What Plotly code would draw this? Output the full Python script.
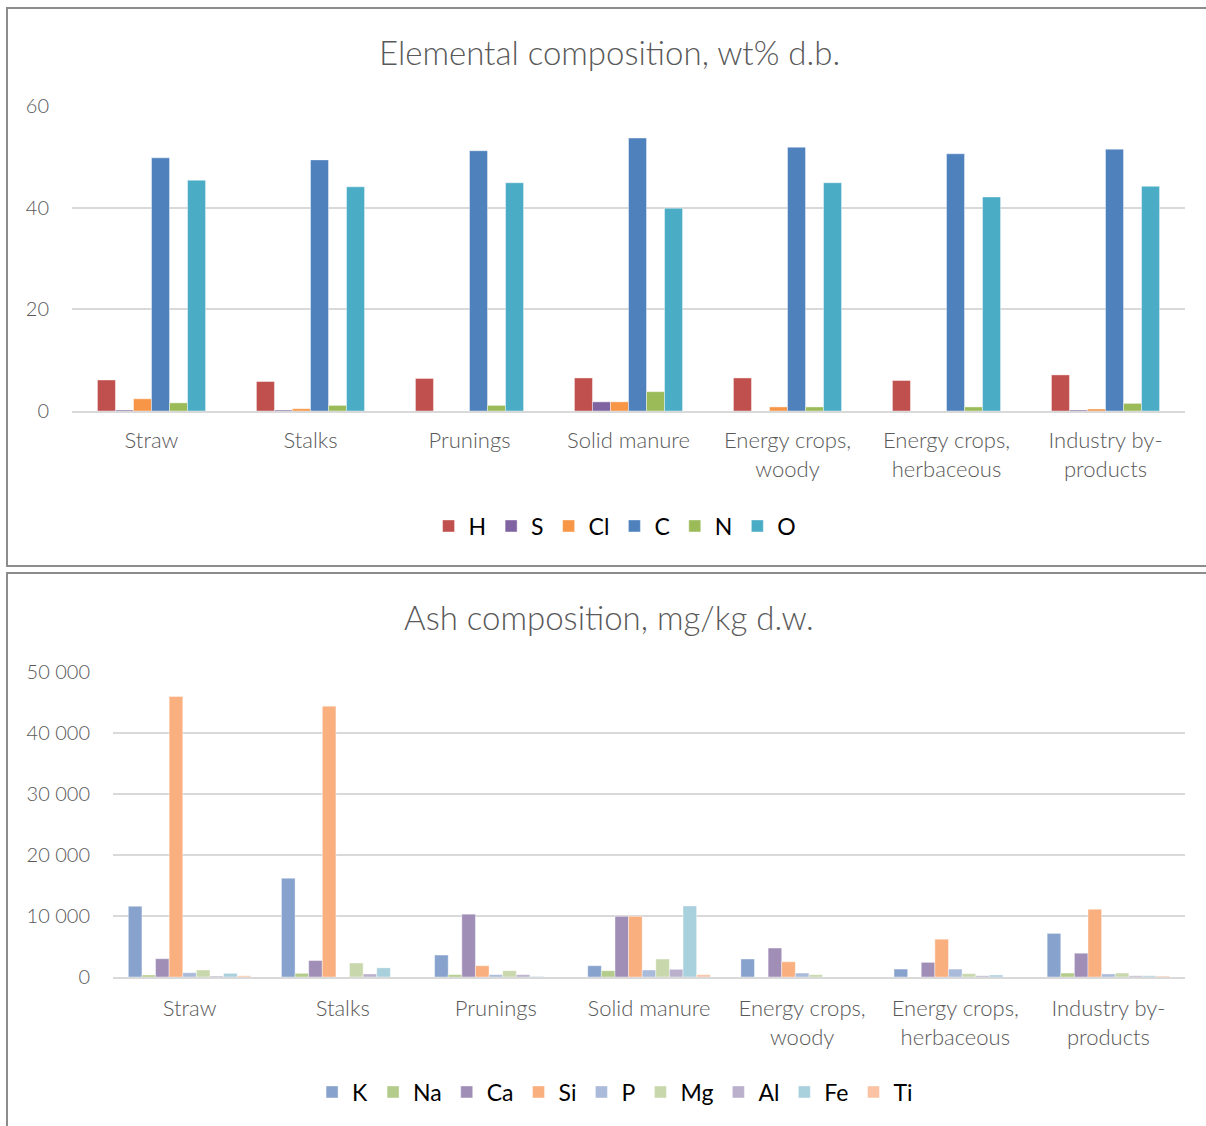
import plotly.graph_objects as go

# Biomass categories (shared by both panels)
categories = ["Straw", "Stalks", "Prunings", "Solid manure",
              "Energy crops,<br>woody", "Energy crops,<br>herbaceous",
              "Industry by-<br>products"]

# Elemental composition, wt% d.b.
elements = ["H", "S", "Cl", "C", "N", "O"]
H = [6.1, 5.8, 6.4, 6.5, 6.5, 6.0, 7.1]
S = [0.2, 0.2, 0.0, 1.8, 0.0, 0.0, 0.2]
Cl = [2.4, 0.45, 0.0, 1.8, 0.8, 0.0, 0.4]
C = [49.8, 49.4, 51.2, 53.7, 51.9, 50.6, 51.5]
N = [1.6, 1.1, 1.1, 3.8, 0.8, 0.8, 1.5]
O = [45.4, 44.1, 44.9, 39.9, 44.9, 42.1, 44.2]
element_values = [H, S, Cl, C, N, O]
element_colors = ["#C0504D", "#8064A2", "#F79646", "#4F81BD", "#9BBB59", "#4BACC6"]

# Ash composition, mg/kg d.w.
ash_elements = ["K", "Na", "Ca", "Si", "P", "Mg", "Al", "Fe", "Ti"]
K = [11600, 16200, 3600, 1850, 2950, 1300, 7150]
Na = [330, 600, 380, 1030, 0, 0, 650]
Ca = [3000, 2700, 10300, 9950, 4750, 2400, 3900]
Si = [46000, 44400, 1850, 9950, 2500, 6200, 11100]
P = [700, 0, 380, 1150, 650, 1300, 500]
Mg = [1150, 2300, 1030, 2950, 380, 550, 650]
Al = [160, 500, 380, 1260, 0, 200, 200]
Fe = [600, 1500, 100, 11650, 0, 330, 200]
Ti = [200, 0, 0, 380, 0, 0, 150]
ash_values = [K, Na, Ca, Si, P, Mg, Al, Fe, Ti]
ash_colors = ["#86A2CD", "#B3CC8B", "#A08EB7", "#F9AF7E", "#A9BADA",
              "#C8D8AC", "#BAB0CB", "#A9D0DD", "#FAC3A4"]

W, H_PX = 1206, 1126
FONT = "Lato, 'Open Sans', sans-serif"
GREY = "#595959"
GRID = "#D9D9D9"


def px_x(p):
    return p / W


def px_y(p):
    return 1 - p / H_PX


fig = go.Figure()

# Top panel: clustered bars, 6 per category
grp_top = 0.68
w_top = grp_top / len(elements)
for i, (name, vals, col) in enumerate(zip(elements, element_values, element_colors)):
    fig.add_trace(go.Bar(
        x=categories, y=vals, name=name, marker_color=col,
        marker_line=dict(width=0.6, color="rgba(255,255,255,0.7)"),
        width=w_top, offset=-grp_top / 2 + i * w_top,
        xaxis="x", yaxis="y", legend="legend",
    ))

# Bottom panel: clustered bars, 9 per category
grp_bot = 0.80
w_bot = grp_bot / len(ash_elements)
for i, (name, vals, col) in enumerate(zip(ash_elements, ash_values, ash_colors)):
    fig.add_trace(go.Bar(
        x=categories, y=vals, name=name, marker_color=col,
        marker_line=dict(width=0.6, color="rgba(255,255,255,0.7)"),
        width=w_bot, offset=-grp_bot / 2 + i * w_bot,
        xaxis="x2", yaxis="y2", legend="legend2",
    ))

tick_font = dict(family=FONT, size=20, color=GREY, weight=300)
cat_font = dict(family=FONT, size=22, color=GREY, weight=300)
legend_font = dict(family=FONT, size=23, color="#000000")
title_font = dict(family=FONT, size=33, color=GREY, weight=300)

fig.update_layout(
    width=W, height=H_PX,
    margin=dict(l=0, r=0, t=0, b=0, autoexpand=False),
    paper_bgcolor="white", plot_bgcolor="white",
    barmode="overlay",
    separators=". ",
    font=dict(family=FONT, color=GREY),
    xaxis=dict(domain=[px_x(72), px_x(1185)], anchor="y",
               showline=True, linecolor=GRID, linewidth=2,
               tickfont=cat_font, ticks="", showgrid=False,
               ticklabelstandoff=9, automargin=False),
    yaxis=dict(domain=[px_y(411), px_y(106)], anchor="x",
               range=[0, 60], dtick=20, showgrid=True, gridcolor=GRID,
               gridwidth=1.5, zeroline=False, tickfont=tick_font,
               ticks="", ticklabelstandoff=22, automargin=False),
    xaxis2=dict(domain=[px_x(113), px_x(1185)], anchor="y2",
                showline=True, linecolor=GRID, linewidth=2,
                tickfont=cat_font, ticks="", showgrid=False,
                ticklabelstandoff=11, automargin=False),
    yaxis2=dict(domain=[px_y(977), px_y(672)], anchor="x2",
                range=[0, 50000], dtick=10000, tickformat=",d",
                showgrid=True, gridcolor=GRID, gridwidth=1.5,
                zeroline=False, tickfont=tick_font, ticks="",
                ticklabelstandoff=22, automargin=False),
    legend=dict(orientation="h", x=0.51, xanchor="center",
                y=px_y(526), yanchor="middle", font=legend_font,
                itemwidth=30, tracegroupgap=0, bgcolor="rgba(0,0,0,0)"),
    legend2=dict(orientation="h", x=0.51, xanchor="center",
                 y=px_y(1092), yanchor="middle", font=legend_font,
                 itemwidth=30, tracegroupgap=0, bgcolor="rgba(0,0,0,0)"),
    annotations=[
        dict(text="Elemental composition, wt% d.b.", x=0.505, y=px_y(52),
             xref="paper", yref="paper", showarrow=False,
             xanchor="center", yanchor="middle", font=title_font),
        dict(text="Ash composition, mg/kg d.w.", x=0.505, y=px_y(617),
             xref="paper", yref="paper", showarrow=False,
             xanchor="center", yanchor="middle", font=title_font),
    ],
    shapes=[
        dict(type="rect", xref="paper", yref="paper",
             x0=px_x(7), x1=1.02, y0=px_y(566), y1=px_y(8),
             line=dict(color="#8C8C8C", width=2), fillcolor="rgba(0,0,0,0)"),
        dict(type="rect", xref="paper", yref="paper",
             x0=px_x(7), x1=1.02, y0=-0.02, y1=px_y(573),
             line=dict(color="#8C8C8C", width=2), fillcolor="rgba(0,0,0,0)"),
    ],
)

fig.write_html("out.html")
